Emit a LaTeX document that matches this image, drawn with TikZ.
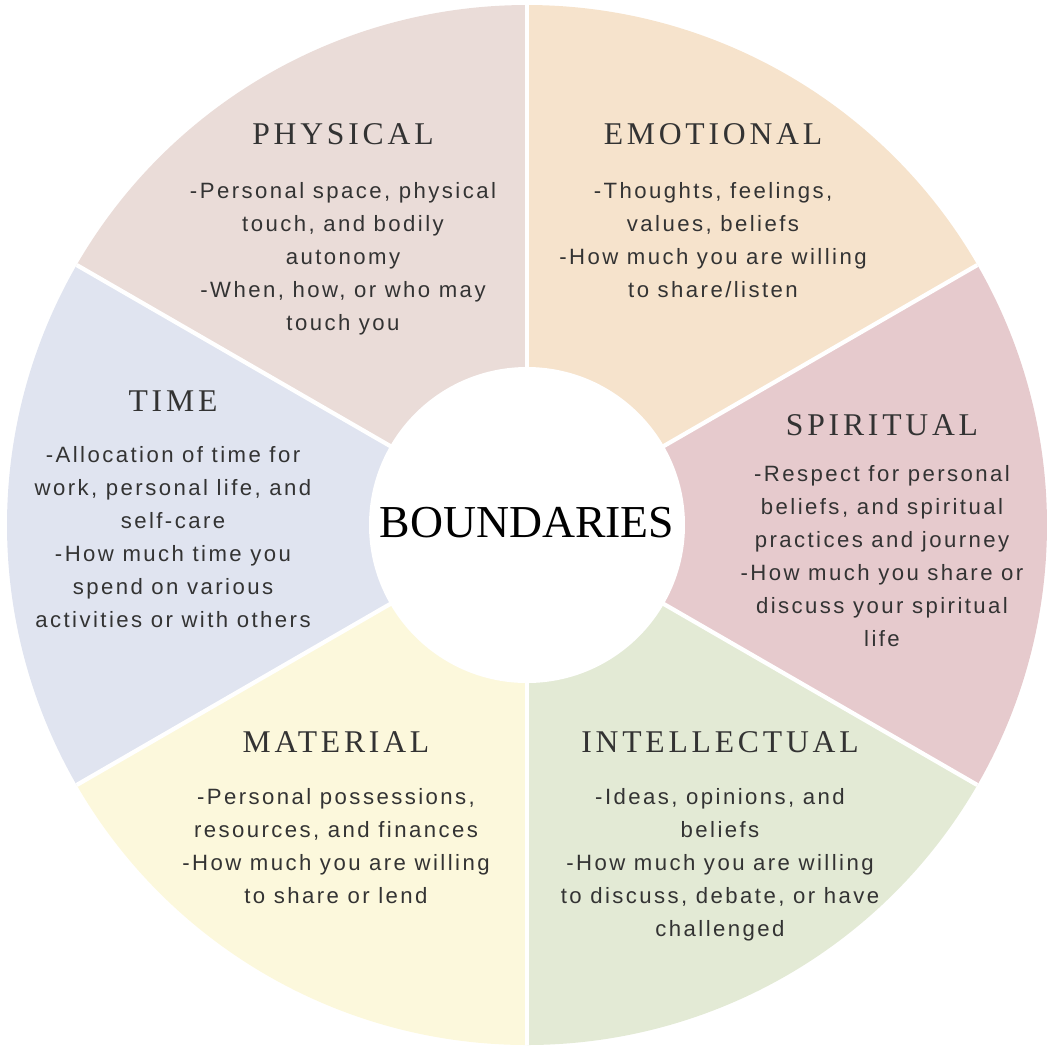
\documentclass[tikz,border=0pt]{standalone}
\usepackage{fontspec}
\setmainfont{Liberation Sans}
\newfontfamily\titlefont[LetterSpace=12]{Liberation Serif}
\newfontfamily\bodyfont[LetterSpace=11]{Liberation Sans}
\newfontfamily\centerfont{Liberation Serif}
\definecolor{cphys}{HTML}{EADCD8}
\definecolor{cemo}{HTML}{F6E3CC}
\definecolor{cspi}{HTML}{E6CACD}
\definecolor{cint}{HTML}{E3EAD5}
\definecolor{cmat}{HTML}{FCF8DC}
\definecolor{ctime}{HTML}{E0E4F0}
\definecolor{txt}{HTML}{333333}
\begin{document}
\begin{tikzpicture}[x=0.01cm,y=-0.01cm,
  ttl/.style={font=\titlefont\fontsize{9}{11}\selectfont,text=txt},
  body/.style={font=\bodyfont\fontsize{6.3}{9.4}\selectfont,text=txt,align=center}]
\useasboundingbox (0,0) rectangle (1053,1053);
\coordinate (c) at (527,525);
\def\R{520}
\foreach \a/\b/\col in {-150/-90/cphys,-90/-30/cemo,-30/30/cspi,30/90/cint,90/150/cmat,150/210/ctime}{
  \fill[\col] (c) -- ++(\a:\R) arc[start angle=\a,end angle=\b,radius=\R] -- cycle;
}
\foreach \a in {90,30,-30,-90,210,150}{
  \draw[white,line width=1.2pt] (c) -- ++(\a:\R);
}
\fill[white] (c) circle (158);
\node[font=\centerfont\fontsize{13}{15}\selectfont,text=black] (ctr) at (527,523) {BOUNDARIES};

\node[ttl] (t1) at (343,134) {PHYSICAL};
\node[body,anchor=north] (b1) at (343,170) {-Personal space, physical\\touch, and bodily\\autonomy\\-When, how, or who may\\touch you};
\node[ttl] (t2) at (713,134) {EMOTIONAL};
\node[body,anchor=north] (b2) at (713,170) {-Thoughts, feelings,\\values, beliefs\\-How much you are willing\\to share/listen};
\node[ttl] (t3) at (882,425) {SPIRITUAL};
\node[body,anchor=north] (b3) at (882,453) {-Respect for personal\\beliefs, and spiritual\\practices and journey\\-How much you share or\\discuss your spiritual\\life};
\node[ttl] (t4) at (720,742) {INTELLECTUAL};
\node[body,anchor=north] (b4) at (720,776) {-Ideas, opinions, and\\beliefs\\-How much you are willing\\to discuss, debate, or have\\challenged};
\node[ttl] (t5) at (336,742) {MATERIAL};
\node[body,anchor=north] (b5) at (336,776) {-Personal possessions,\\resources, and finances\\-How much you are willing\\to share or lend};
\node[ttl] (t6) at (173,401) {TIME};
\node[body,anchor=north] (b6) at (173,434) {-Allocation of time for\\work, personal life, and\\self-care\\-How much time you\\spend on various\\activities or with others};
\end{tikzpicture}
\end{document}
